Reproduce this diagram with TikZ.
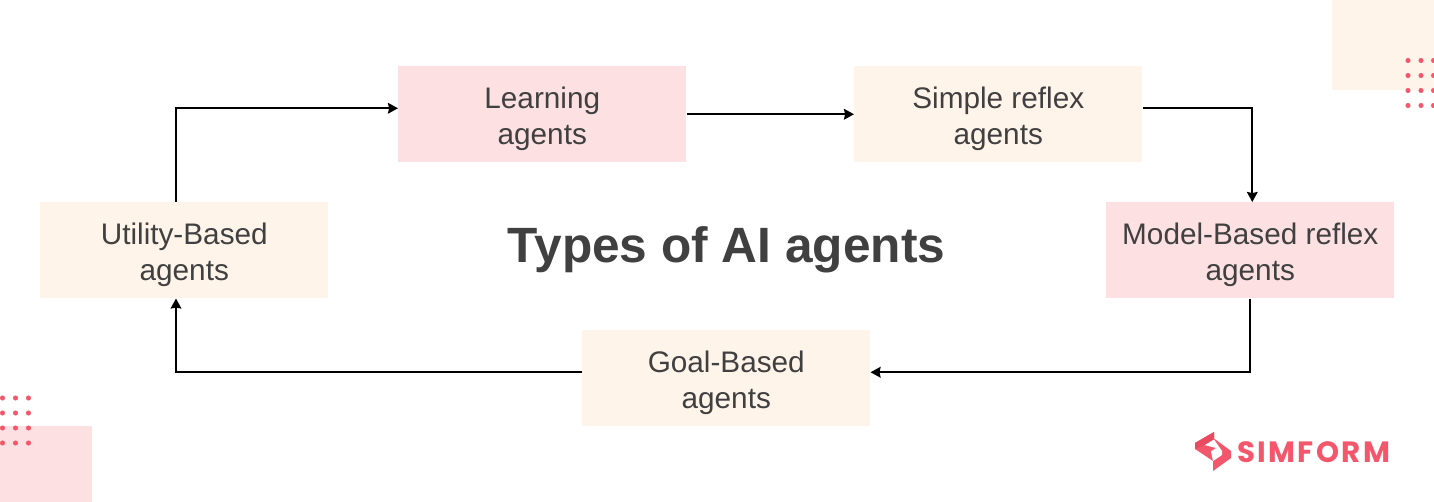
\documentclass[tikz,border=0pt]{standalone}
\usepackage{fontspec}
\setmainfont{Liberation Sans}
\newfontfamily\logofont[LetterSpace=8]{Poppins}
\usetikzlibrary{arrows.meta}
\definecolor{pinkbox}{HTML}{FCE0E2}
\definecolor{creambox}{HTML}{FFF4EA}
\definecolor{inktext}{HTML}{404040}
\definecolor{brandred}{HTML}{F4566B}
\definecolor{brandredd}{HTML}{E84A60}
\newcommand{\twolines}[2]{\raisebox{-8.65pt}[0pt][0pt]{\parbox{216pt}{\centering #1\\#2}}}
\tikzset{
  x=0.75pt,y=-0.75pt,
  agent/.style={minimum width=216pt,minimum height=72pt,inner sep=0pt,align=center,
    text=inktext,font=\fontsize{22.3}{27}\selectfont,anchor=north west},
  pinkagent/.style={agent,fill=pinkbox},
  creamagent/.style={agent,fill=creambox},
  link/.style={draw=black,line width=1.5pt,-{Stealth[length=7.5pt,width=8pt,inset=0.8pt]}},
  dotmark/.style={fill=brandred,draw=none},
}
\begin{document}
\begin{tikzpicture}
\useasboundingbox (0,0) rectangle (1434,502);
\fill[white] (0,0) rectangle (1434,502);
% decorations
\fill[creambox] (1332,0) rectangle (1434,90);
\fill[pinkbox] (0,426) rectangle (92,502);
\foreach \yy in {60.5,75.5,90.5,105.5}
  \foreach \xx in {1408,1421,1433.5}
    \fill[dotmark] (\xx,\yy) circle[radius=1.9pt];
\foreach \yy in {398,413,428,443}
  \foreach \xx in {2.5,15.5,28.5}
    \fill[dotmark] (\xx,\yy) circle[radius=1.9pt];
% nodes
\node[pinkagent]  (learn)   at (398,66)   {\twolines{Learning}{agents}};
\node[creamagent] (simple)  at (854,66)   {\twolines{Simple reflex}{agents}};
\node[pinkagent]  (model)   at (1106,202) {\twolines{Model-Based reflex}{agents}};
\node[creamagent] (goal)    at (582,330)  {\twolines{Goal-Based}{agents}};
\node[creamagent] (utility) at (40,202)   {\twolines{Utility-Based}{agents}};
\node[text=inktext,font=\fontsize{37.2}{45}\selectfont\bfseries] (title) at (726.5,250) {Types of AI agents};
% connectors
\draw[link] (learn.east) -- (simple.west);
\draw[link] ([yshift=4.5pt]simple.east) -| ([xshift=1.5pt]model.north);
\draw[link] (model.south) |- ([yshift=4.5pt]goal.east);
\draw[link] ([yshift=4.5pt]goal.west) -- ++(-406,0) coordinate (gc) -- (gc |- utility.south);
\draw[link] (utility.north -| gc) |- ([yshift=4.5pt]learn.west);
% logo
\fill[brandred] (1214,432) -- (1214,438.5) -- (1231,451) -- (1231,458) -- (1213,471) -- (1213,461) -- (1195,449) -- (1195,443) -- cycle;
\fill[white] (1204.5,445) -- (1214,439.5) -- (1222,451) -- (1222,455) -- (1213,461) -- (1211,451.5) -- (1216,448) -- cycle;
\fill[brandredd] (1214,432) -- (1195,443) -- (1195,449) -- (1204.5,445) -- (1214,439) -- cycle;
\node[text=brandred,font=\logofont\bfseries\fontsize{22}{24}\selectfont,anchor=west,inner sep=0pt] (brand) at (1237,452) {SIMFORM};
\end{tikzpicture}
\end{document}
